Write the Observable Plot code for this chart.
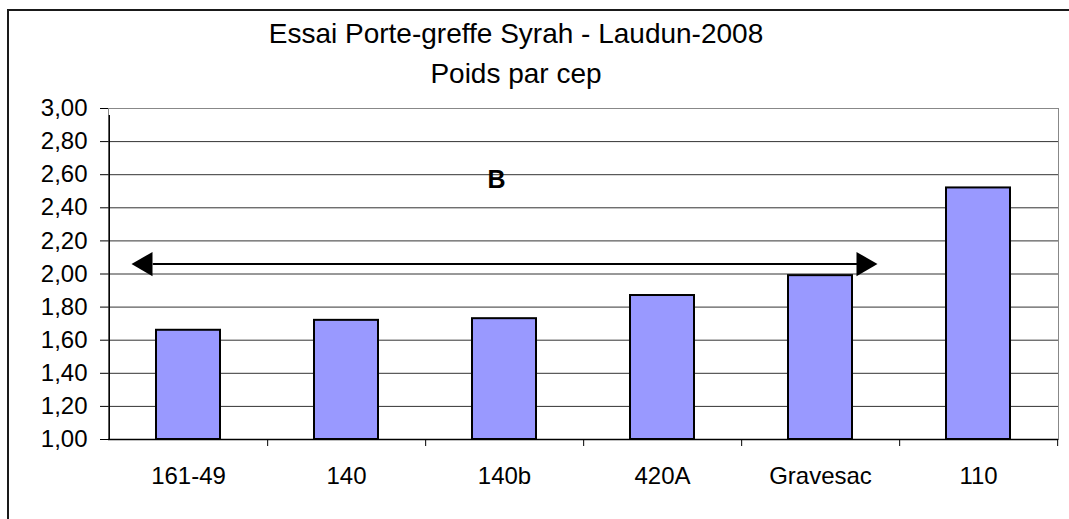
<!DOCTYPE html>
<html>
<head>
<meta charset="utf-8">
<script src="https://cdn.jsdelivr.net/npm/d3@7"></script>
<script src="https://cdn.jsdelivr.net/npm/@observablehq/plot@0.6"></script>
<style>
  html, body { margin: 0; padding: 0; background: #fff; }
  #wrap { position: relative; width: 1069px; height: 519px; overflow: hidden; font-family: "Liberation Sans", Arial, sans-serif; }
  #border { position: absolute; left: 7px; top: 9px; right: -10px; bottom: -10px; border-left: 2px solid #1a1a1a; border-top: 2px solid #1a1a1a; }
  #title { position: absolute; left: 8px; width: 1016px; top: 14px; text-align: center; font-size: 28px; line-height: 40px; color: #000; }
  #chart { position: absolute; left: 0; top: 0; }
</style>
</head>
<body>
<div id="wrap">
  <div id="border"></div>
  <div id="chart"></div>
  <div id="title">Essai Porte-greffe Syrah - Laudun-2008<br>Poids par cep</div>
</div>
<script>
const categories = ["161-49", "140", "140b", "420A", "Gravesac", "110"];
const values = [1.66, 1.72, 1.73, 1.87, 1.99, 2.52];
const yTicks = [1.0, 1.2, 1.4, 1.6, 1.8, 2.0, 2.2, 2.4, 2.6, 2.8, 3.0];
const yTickLabels = ["1,00", "1,20", "1,40", "1,60", "1,80", "2,00", "2,20", "2,40", "2,60", "2,80", "3,00"];
const gridValues = [1.2, 1.4, 1.6, 1.8, 2.0, 2.2, 2.4, 2.6, 2.8];
const arrowFrom = "161-49";
const arrowTo = "Gravesac";
const arrowValue = 2.06;
const groupLabel = "B";
const groupLabelCategory = "140b";
const groupLabelValue = 2.52;

const data = categories.map((c, i) => ({cat: c, v: values[i]}));

const W = 1069, H = 519, mL = 108, mR = 11, mT = 108, mB = 80;
const step = (W - mL - mR) / categories.length;

const chart = Plot.plot({
  width: W,
  height: H,
  marginLeft: mL,
  marginRight: mR,
  marginTop: mT,
  marginBottom: mB,
  style: {fontFamily: "'Liberation Sans', Arial, sans-serif", fontSize: "24px", background: "transparent", color: "#000"},
  x: {domain: categories, paddingInner: 0.596, paddingOuter: 0.298, label: null},
  y: {domain: [1, 3], label: null},
  marks: [
    Plot.frame({stroke: "#888"}),
    Plot.ruleY(gridValues, {stroke: "#333", strokeWidth: 1}),
    Plot.barY(data, {x: "cat", y1: 1, y2: "v", fill: "#9999ff", stroke: "#000", strokeWidth: 2}),
    Plot.ruleY([1], {stroke: "#000", strokeWidth: 1.3}),
    Plot.ruleX([categories[0]], {dx: -step / 2, y1: 1, y2: 3, insetBottom: -7, stroke: "#000", strokeWidth: 1.3}),
    Plot.ruleX(categories, {x: d => d, dx: step / 2, y1: 1, y2: 1, insetBottom: -7, stroke: "#000"}),
    Plot.axisY({ticks: yTicks, tickFormat: d => yTickLabels[yTicks.findIndex(t => Math.abs(t - d) < 1e-9)], tickSize: 8, tickPadding: 13, fontSize: 24, label: null}),
    Plot.axisX({tickSize: 0, tickPadding: 27, fontSize: 24, label: null}),
    Plot.arrow([0], {x1: () => arrowFrom, x2: () => arrowTo, y1: () => arrowValue, y2: () => arrowValue, headLength: 0, insetStart: -35, insetEnd: -36, stroke: "#000", strokeWidth: 2}),
    Plot.dot([arrowFrom], {x: d => d, y: () => arrowValue, symbol: "triangle", rotate: -90, r: 9, fill: "#000", stroke: "none", dx: -43}),
    Plot.dot([arrowTo], {x: d => d, y: () => arrowValue, symbol: "triangle", rotate: 90, r: 9, fill: "#000", stroke: "none", dx: 43}),
    Plot.text([groupLabel], {x: () => groupLabelCategory, y: () => groupLabelValue, text: d => d, lineAnchor: "bottom", dx: -8, fontSize: 25, fontWeight: "bold", fill: "#000"})
  ]
});
document.getElementById("chart").appendChild(chart);
</script>
</body>
</html>
